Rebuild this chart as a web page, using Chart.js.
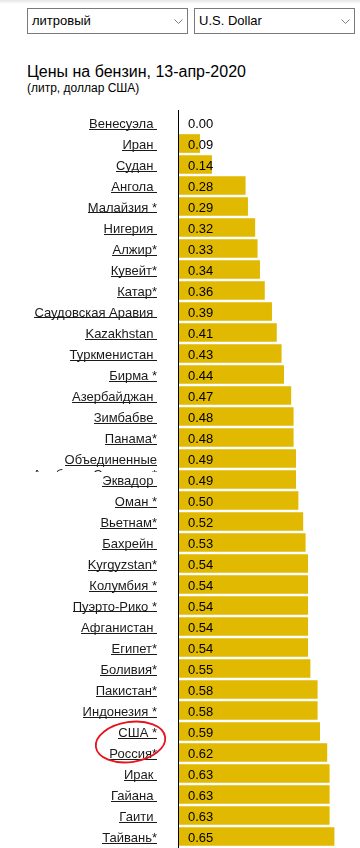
<!DOCTYPE html>
<html>
<head>
<meta charset="utf-8">
<script src="https://cdn.jsdelivr.net/npm/chart.js@4/dist/chart.umd.min.js"></script>
<style>
  html, body { margin: 0; padding: 0; background: #fff; }
  body { width: 360px; height: 848px; position: relative; overflow: hidden; font-family: "Liberation Sans", Arial, sans-serif; }
  .shade { position: absolute; left: 0; top: 0; width: 360px; height: 4px; background: linear-gradient(rgba(0,0,0,0.10), rgba(0,0,0,0)); }
  .sel { position: absolute; top: 8px; height: 26px; box-sizing: border-box; border: 1px solid #7a7a7a; font-size: 13px; line-height: 24px; padding-left: 4px; color: #000; background: #fff; }
  .sel svg { position: absolute; right: 4px; top: 10px; }
  .title { position: absolute; left: 27px; top: 64px; font-size: 16px; line-height: 16px; color: #000; white-space: nowrap; }
  .sub { position: absolute; left: 27px; top: 82px; font-size: 12px; line-height: 12px; color: #000; white-space: nowrap; }
  #wrap { position: absolute; left: 0; top: 110px; width: 360px; height: 738px; }
</style>
</head>
<body>
<div class="shade"></div>
<div class="sel" style="left:27px;width:161px">литровый<svg width="9" height="6"><polyline points="0.5,0.5 4.5,4.5 8.5,0.5" fill="none" stroke="#808080" stroke-width="1"/></svg></div>
<div class="sel" style="left:194px;width:161px">U.S. Dollar<svg width="9" height="6"><polyline points="0.5,0.5 4.5,4.5 8.5,0.5" fill="none" stroke="#808080" stroke-width="1"/></svg></div>
<div class="title">Цены на бензин, 13-апр-2020</div>
<div class="sub">(литр, доллар США)</div>
<div id="wrap"><canvas id="c" width="360" height="738"></canvas></div>
<script>
const countries = [
  "Венесуэла ", "Иран ", "Судан ", "Ангола ", "Малайзия *", "Нигерия ", "Алжир*",
  "Кувейт*", "Катар*", "Саудовская Аравия ", "Kazakhstan ", "Туркменистан ", "Бирма *",
  "Азербайджан ", "Зимбабве ", "Панама*", "Объединенные Арабские Эмираты *", "Эквадор ",
  "Оман *", "Вьетнам*", "Бахрейн ", "Kyrgyzstan*", "Колумбия *", "Пуэрто-Рико *",
  "Афганистан ", "Египет*", "Боливия*", "Пакистан*", "Индонезия *", "США *", "Россия*",
  "Ирак ", "Гайана ", "Гаити ", "Тайвань*"
];
const prices = [
  0.00, 0.09, 0.14, 0.28, 0.29, 0.32, 0.33,
  0.34, 0.36, 0.39, 0.41, 0.43, 0.44,
  0.47, 0.48, 0.48, 0.49, 0.49,
  0.50, 0.52, 0.53, 0.54, 0.54, 0.54,
  0.54, 0.54, 0.55, 0.58, 0.58, 0.59, 0.62,
  0.63, 0.63, 0.63, 0.65
];
const highlighted = ["США *", "Россия*"];

const FONT = '13px "Liberation Sans", Arial, sans-serif';
const LABEL_RIGHT = 157;
const WRAP_WIDTH = 150;

function wrapLabel(ctx, text) {
  ctx.font = FONT;
  if (ctx.measureText(text).width <= WRAP_WIDTH) return [text];
  const words = text.split(' ');
  const lines = [];
  let cur = '';
  words.forEach(w => {
    const t = cur ? cur + ' ' + w : w;
    if (cur && ctx.measureText(t).width > WRAP_WIDTH) { lines.push(cur); cur = w; }
    else cur = t;
  });
  if (cur) lines.push(cur);
  return lines;
}

const labelPlugin = {
  id: 'labelPlugin',
  afterDatasetsDraw(chart) {
    const ctx = chart.ctx;
    const ys = chart.scales.y;
    const xs = chart.scales.x;
    ctx.save();
    // axis line
    ctx.fillStyle = '#000';
    ctx.fillRect(Math.round(xs.getPixelForValue(0)), 0, 1, chart.height);
    ctx.font = FONT;
    ctx.textBaseline = 'alphabetic';
    countries.forEach((c, i) => {
      const cy = ys.getPixelForValue(i);
      // value label
      ctx.textAlign = 'left';
      ctx.fillStyle = '#000';
      ctx.fillText(prices[i].toFixed(2), xs.getPixelForValue(0) + 10, cy + 5);
      // country label
      const lines = wrapLabel(ctx, c);
      ctx.save();
      ctx.beginPath();
      ctx.rect(0, cy - 10.5, LABEL_RIGHT + 10, 24);
      ctx.clip();
      ctx.textAlign = 'right';
      ctx.fillStyle = '#1a1a1a';
      lines.forEach((ln, k) => {
        const by = cy + 5 + k * 15;
        ctx.fillText(ln, LABEL_RIGHT, by);
        const w = ctx.measureText(ln).width;
        ctx.fillRect(Math.round(LABEL_RIGHT - w), Math.round(by + 1), Math.round(w), 1);
      });
      ctx.restore();
    });
    // red ellipse around highlighted labels
    const i1 = countries.indexOf(highlighted[0]);
    const i2 = countries.indexOf(highlighted[1]);
    const yA = ys.getPixelForValue(i1), yB = ys.getPixelForValue(i2);
    ctx.strokeStyle = '#e8141c';
    ctx.lineWidth = 1.8;
    ctx.beginPath();
    ctx.ellipse(130.5, (yA + yB) / 2, 35, 20, -0.15, 0, Math.PI * 2);
    ctx.stroke();
    ctx.restore();
  }
};

new Chart(document.getElementById('c'), {
  type: 'bar',
  data: {
    labels: countries,
    datasets: [{
      data: prices,
      backgroundColor: '#e1b900',
      borderWidth: 0,
      barThickness: 18
    }]
  },
  options: {
    indexAxis: 'y',
    responsive: false,
    animation: false,
    devicePixelRatio: 1,
    layout: { padding: { left: 178, top: 2, bottom: 1, right: 0 } },
    plugins: { legend: { display: false }, tooltip: { enabled: false }, title: { display: false } },
    scales: {
      x: { display: false, min: 0, max: 0.758 },
      y: { display: false }
    }
  },
  plugins: [labelPlugin]
});
</script>
</body>
</html>
